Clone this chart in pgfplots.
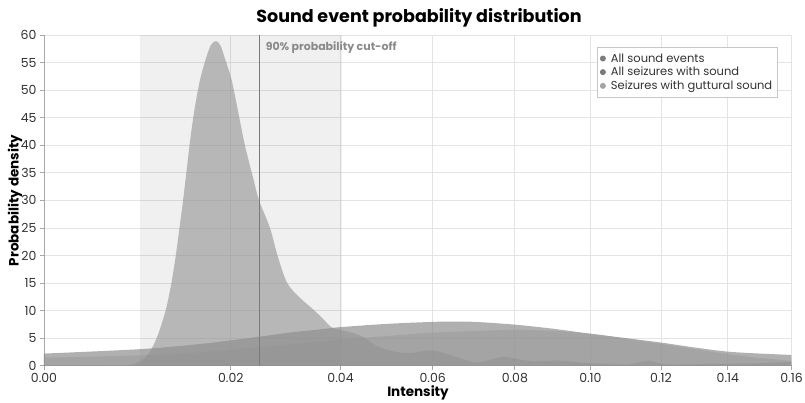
\documentclass[border=0pt]{standalone}
\usepackage{pgfplots}
\usepackage{pgfplotstable}
\pgfplotsset{compat=1.18}
\usepackage{fontspec}
\setmainfont{Poppins}

\definecolor{allsound}{HTML}{929292}
\definecolor{allseiz}{HTML}{7B7B7B}
\definecolor{guttural}{HTML}{9C9C9C}
\definecolor{ticktext}{HTML}{333333}
\definecolor{gridgray}{HTML}{E4E4E4}
\definecolor{axisgray}{HTML}{A8A8A8}
\definecolor{cutgray}{HTML}{7A7A7A}
\definecolor{cuttext}{HTML}{8A8A8A}

% kernel density estimates (intensity, density)
\pgfplotstableread{
x y
0.0000 0
0.0050 0
0.0062 0.15
0.0070 0.5
0.0078 1.2
0.0085 2.4
0.0090 3.8
0.0095 5.5
0.0100 7.6
0.0106 10.5
0.0112 14.5
0.0118 19.5
0.0123 24.5
0.0128 29.5
0.0133 35
0.0138 40.5
0.0144 46
0.0152 51.5
0.0161 55.6
0.0169 58.2
0.0177 58.9
0.0184 58.0
0.0191 55.6
0.0201 52
0.0212 46
0.0223 40
0.0237 34
0.0247 30
0.0266 25
0.0280 19.8
0.0297 15
0.0321 12.3
0.0346 10.2
0.0365 8.5
0.0385 6.8
0.0419 6.1
0.0447 5.2
0.0475 3.6
0.0511 2.6
0.0548 2.3
0.0598 2.8
0.0640 1.95
0.0705 0.6
0.0770 1.6
0.0821 1.0
0.0847 0.8
0.0918 0.9
0.0999 0.45
0.1102 0.25
0.1162 0.9
0.1217 0.2
0.1315 0.3
0.1469 0.4
0.1600 0.7
}\allsoundtab

\pgfplotstableread{
x y
0.0000 2.2
0.0074 3.0
0.0150 3.9
0.0200 4.6
0.0250 5.3
0.0300 6.0
0.0350 6.5
0.0400 7.0
0.0500 7.6
0.0600 7.95
0.0650 8.0
0.0700 7.95
0.0800 7.45
0.0900 6.7
0.1000 5.8
0.1100 5.0
0.1200 4.2
0.1300 3.3
0.1400 2.55
0.1500 2.2
0.1600 1.95
}\allseiztab

\pgfplotstableread{
x y
0.0000 1.45
0.0100 2.0
0.0200 2.9
0.0300 3.9
0.0400 4.7
0.0500 5.4
0.0600 6.0
0.0700 6.3
0.0800 6.5
0.0900 6.3
0.1000 5.8
0.1100 4.9
0.1200 3.95
0.1300 3.0
0.1400 2.1
0.1500 1.4
0.1600 0.9
}\gutturaltab

\begin{document}
\begin{tikzpicture}[x=1pt,y=1pt]
\path[use as bounding box] (0,0) rectangle (805,402);
\begin{axis}[
  at={(44pt,36.3pt)}, anchor=south west,
  scale only axis, width=747.5pt, height=330.7pt,
  x coord trafo/.code={\pgfmathparse{exp(ln(max(1000*#1,0.0001))*2/3)}},
  xmin=0, xmax=0.16, ymin=0, ymax=60,
  enlargelimits=false,
  xtick={0,0.02,0.04,0.06,0.08,0.10,0.12,0.14,0.16},
  xticklabels={0.00,0.02,0.04,0.06,0.08,0.10,0.12,0.14,0.16},
  ytick={0,5,...,60},
  /pgf/number format/assume math mode=true,
  ticklabel style={font=\fontsize{12.5}{14}\selectfont, text=ticktext},
  grid=major,
  major grid style={gridgray, line width=0.8pt},
  axis x line*=bottom, axis y line*=left,
  axis line style={axisgray, line width=0.9pt, -},
  tick style={axisgray, line width=0.8pt},
  tick align=outside, major tick length=4pt,
  legend style={at={(0.7394,0.9628)}, anchor=north west, draw=black!22,
    fill=white, font=\fontsize{11.5}{12}\selectfont, text=ticktext,
    row sep=-0.5pt, inner xsep=3pt, inner ysep=4pt},
  legend cell align=left,
  legend image code/.code={\path[fill=none, draw=none] (-3pt,-3pt) rectangle (6pt,3pt);
    \fill[#1] (0pt,0pt) circle (3pt);},
]
% 90% interval band
\addplot[draw=none, fill=black, fill opacity=0.06, forget plot]
  coordinates {(0.0074,60) (0.0402,60)} \closedcycle;

\addplot[draw=none, fill=allseiz, fill opacity=0.6, smooth, tension=0.5, forget plot]
  table[x=x,y=y]{\allseiztab} \closedcycle;
\addplot[draw=none, fill=guttural, fill opacity=0.6, smooth, tension=0.5, forget plot]
  table[x=x,y=y]{\gutturaltab} \closedcycle;
\addplot[draw=none, fill=allsound, fill opacity=0.6, smooth, tension=0.5, forget plot]
  table[x=x,y=y]{\allsoundtab} \closedcycle;

% cut-off
\addplot[cutgray, line width=1.1pt, forget plot] coordinates {(0.0247,0) (0.0247,60)};
\node[anchor=west, inner sep=0pt, xshift=6.5pt, text=cuttext,
  font=\bfseries\fontsize{11}{12}\selectfont] at (axis cs:0.0247,57.8)
  {90\% probability cut-off};

\addlegendimage{fill=black!51, draw=none}
\addlegendentry{All sound events}
\addlegendimage{fill=black!52, draw=none}
\addlegendentry{All seizures with sound}
\addlegendimage{fill=black!36, draw=none}
\addlegendentry{Seizures with guttural sound}
\end{axis}
\node[font=\bfseries\fontsize{17.5}{20}\selectfont] at (419,384) {Sound event probability distribution};
\node[font=\bfseries\fontsize{13.5}{16}\selectfont] at (418,9) {Intensity};
\node[rotate=90, font=\bfseries\fontsize{13.5}{16}\selectfont] at (15,201.5) {Probability density};
\end{tikzpicture}
\end{document}
